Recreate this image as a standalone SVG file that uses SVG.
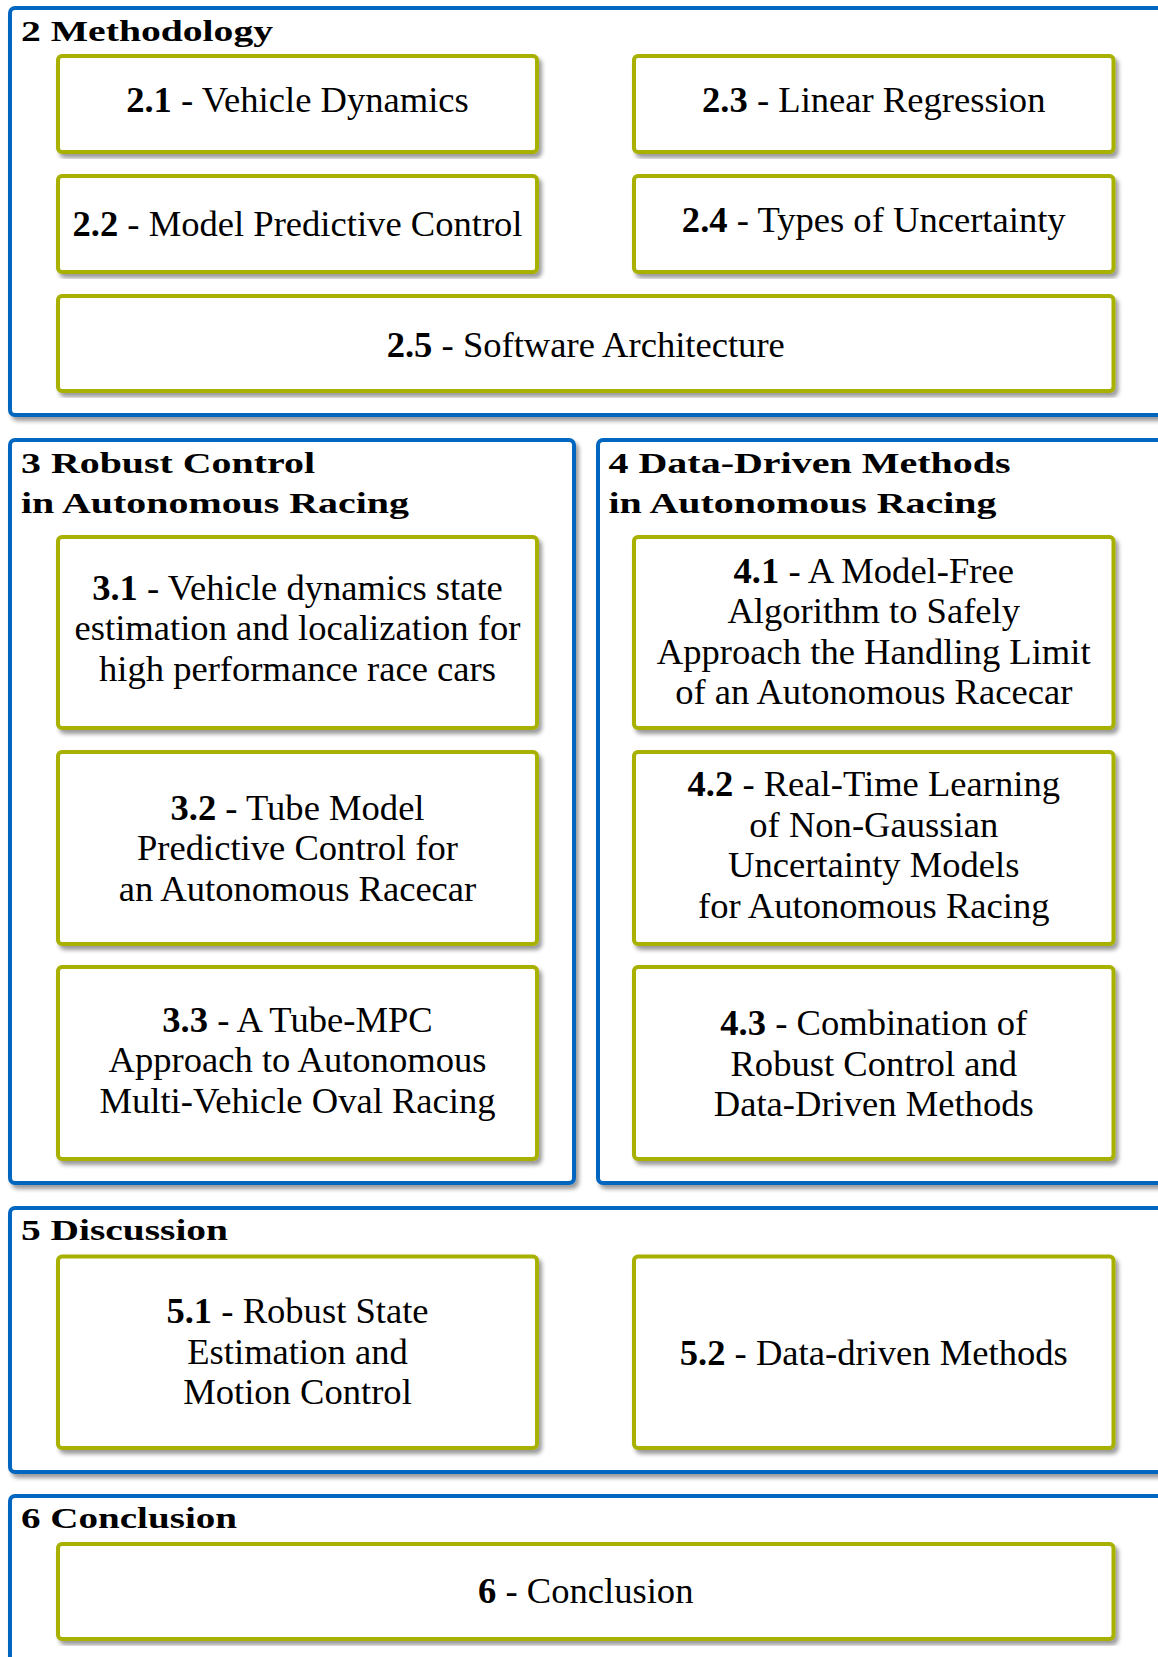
<svg xmlns="http://www.w3.org/2000/svg" width="1158" height="1657" viewBox="0 0 1158 1657">
<defs>
<filter id="sh" x="-3%" y="-3%" width="108%" height="110%">
<feGaussianBlur in="SourceAlpha" stdDeviation="2"/>
<feOffset dx="3" dy="3.5" result="o"/>
<feComponentTransfer><feFuncA type="linear" slope="0.4"/></feComponentTransfer>
<feMerge><feMergeNode/><feMergeNode in="SourceGraphic"/></feMerge>
</filter>
<style>
.sec{fill:#ffffff;stroke:#0066bf;stroke-width:4;filter:url(#sh)}
.box{fill:#ffffff;stroke:#a8b000;stroke-width:4;filter:url(#sh)}
.ttl{font-family:"Liberation Serif","Times New Roman",serif;font-weight:bold;font-size:30px;fill:#000}
.lbl{font-family:"Liberation Serif","Times New Roman",serif;font-size:36.6px;fill:#000;text-anchor:middle}
.b{font-weight:bold}
</style>
</defs>
<rect width="1158" height="1657" fill="#ffffff"/>

<g id="sec2">
<rect class="sec" x="10" y="8" width="1170" height="407" rx="5"/>
<text class="ttl" x="21" y="40.5" textLength="252" lengthAdjust="spacingAndGlyphs">2 Methodology</text>
</g>
<g id="sec3">
<rect class="sec" x="10" y="440" width="564" height="743" rx="5"/>
<text class="ttl" x="21" y="472.5" textLength="294" lengthAdjust="spacingAndGlyphs">3 Robust Control</text>
<text class="ttl" x="21" y="513" textLength="388" lengthAdjust="spacingAndGlyphs">in Autonomous Racing</text>
</g>
<g id="sec4">
<rect class="sec" x="598" y="440" width="582" height="743" rx="5"/>
<text class="ttl" x="608.5" y="472.5" textLength="402" lengthAdjust="spacingAndGlyphs">4 Data-Driven Methods</text>
<text class="ttl" x="608.5" y="513" textLength="388" lengthAdjust="spacingAndGlyphs">in Autonomous Racing</text>
</g>
<g id="sec5">
<rect class="sec" x="10" y="1208" width="1170" height="264" rx="5"/>
<text class="ttl" x="21" y="1240" textLength="207" lengthAdjust="spacingAndGlyphs">5 Discussion</text>
</g>
<g id="sec6">
<rect class="sec" x="10" y="1496" width="1170" height="200" rx="5"/>
<text class="ttl" x="21" y="1528" textLength="216" lengthAdjust="spacingAndGlyphs">6 Conclusion</text>
</g>

<g id="n2-1">
<rect class="box" x="58" y="56" width="479" height="96" rx="4"/>
<text class="lbl" x="297.5" y="112"><tspan class="b">2.1</tspan> - Vehicle Dynamics</text>
</g>
<g id="n2-3">
<rect class="box" x="634" y="56" width="479.5" height="96" rx="4"/>
<text class="lbl" x="873.75" y="112"><tspan class="b">2.3</tspan> - Linear Regression</text>
</g>
<g id="n2-2">
<rect class="box" x="58" y="176" width="479" height="96" rx="4"/>
<text class="lbl" x="297.5" y="235.5"><tspan class="b">2.2</tspan> - Model Predictive Control</text>
</g>
<g id="n2-4">
<rect class="box" x="634" y="176" width="479.5" height="96" rx="4"/>
<text class="lbl" x="873.75" y="232"><tspan class="b">2.4</tspan> - Types of Uncertainty</text>
</g>
<g id="n2-5">
<rect class="box" x="58" y="296" width="1055.5" height="95" rx="4"/>
<text class="lbl" x="585.75" y="356.5"><tspan class="b">2.5</tspan> - Software Architecture</text>
</g>

<g id="n3-1">
<rect class="box" x="58" y="537" width="479" height="191" rx="4"/>
<text class="lbl" x="297.5" y="599.5"><tspan class="b">3.1</tspan> - Vehicle dynamics state</text>
<text class="lbl" x="297.5" y="640">estimation and localization for</text>
<text class="lbl" x="297.5" y="680.5">high performance race cars</text>
</g>
<g id="n3-2">
<rect class="box" x="58" y="752" width="479" height="192" rx="4"/>
<text class="lbl" x="297.5" y="819.5"><tspan class="b">3.2</tspan> - Tube Model</text>
<text class="lbl" x="297.5" y="860">Predictive Control for</text>
<text class="lbl" x="297.5" y="900.5">an Autonomous Racecar</text>
</g>
<g id="n3-3">
<rect class="box" x="58" y="967" width="479" height="192" rx="4"/>
<text class="lbl" x="297.5" y="1031.5"><tspan class="b">3.3</tspan> - A Tube-MPC</text>
<text class="lbl" x="297.5" y="1072">Approach to Autonomous</text>
<text class="lbl" x="297.5" y="1112.5">Multi-Vehicle Oval Racing</text>
</g>

<g id="n4-1">
<rect class="box" x="634" y="537" width="479.5" height="191" rx="4"/>
<text class="lbl" x="873.75" y="582.5"><tspan class="b">4.1</tspan> - A Model-Free</text>
<text class="lbl" x="873.75" y="623">Algorithm to Safely</text>
<text class="lbl" x="873.75" y="663.5">Approach the Handling Limit</text>
<text class="lbl" x="873.75" y="704">of an Autonomous Racecar</text>
</g>
<g id="n4-2">
<rect class="box" x="634" y="752" width="479.5" height="192" rx="4"/>
<text class="lbl" x="873.75" y="796"><tspan class="b">4.2</tspan> - Real-Time Learning</text>
<text class="lbl" x="873.75" y="836.5">of Non-Gaussian</text>
<text class="lbl" x="873.75" y="877">Uncertainty Models</text>
<text class="lbl" x="873.75" y="917.5">for Autonomous Racing</text>
</g>
<g id="n4-3">
<rect class="box" x="634" y="967" width="479.5" height="192" rx="4"/>
<text class="lbl" x="873.75" y="1035"><tspan class="b">4.3</tspan> - Combination of</text>
<text class="lbl" x="873.75" y="1075.5">Robust Control and</text>
<text class="lbl" x="873.75" y="1116">Data-Driven Methods</text>
</g>

<g id="n5-1">
<rect class="box" x="58" y="1256.5" width="479" height="191.5" rx="4"/>
<text class="lbl" x="297.5" y="1323"><tspan class="b">5.1</tspan> - Robust State</text>
<text class="lbl" x="297.5" y="1363.5">Estimation and</text>
<text class="lbl" x="297.5" y="1404">Motion Control</text>
</g>
<g id="n5-2">
<rect class="box" x="634" y="1256.5" width="479.5" height="191.5" rx="4"/>
<text class="lbl" x="873.75" y="1364.5"><tspan class="b">5.2</tspan> - Data-driven Methods</text>
</g>

<g id="n6">
<rect class="box" x="58" y="1544" width="1055.5" height="95" rx="4"/>
<text class="lbl" x="585.75" y="1603"><tspan class="b">6</tspan> - Conclusion</text>
</g>

<g id="connectors"/>
</svg>
